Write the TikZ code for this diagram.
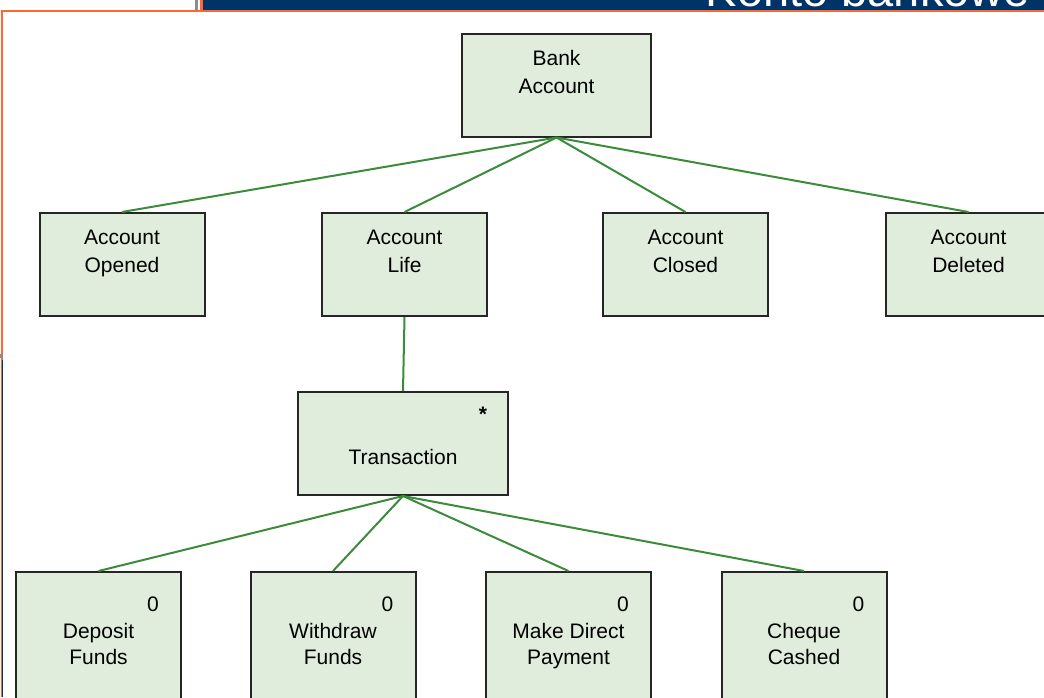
\documentclass[tikz,border=0pt]{standalone}
\usepackage{fontspec}
\setmainfont{Liberation Sans}
\usetikzlibrary{positioning}
\definecolor{boxgreen}{RGB}{225,237,220}
\definecolor{linkgreen}{RGB}{58,140,58}
\definecolor{bannerblue}{RGB}{0,51,102}
\definecolor{frameorange}{RGB}{255,102,51}
\tikzset{
  box/.style={draw=black!85, line width=2pt, fill=boxgreen, minimum width=165pt, minimum height=103pt, inner sep=0pt},
  boxtext/.style={anchor=north, yshift=-18pt, align=center, inner sep=0pt, font=\fontsize{21}{28}\selectfont},
  lowtext/.style={anchor=north, yshift=-52.5pt, align=center, inner sep=0pt, font=\fontsize{21}{26}\selectfont},
  multip/.style={anchor=center, xshift=-29pt, yshift=-33pt, inner sep=0pt, font=\fontsize{21}{26}\selectfont},
  link/.style={draw=linkgreen, line width=2pt}
}
\begin{document}
\begin{tikzpicture}[x=1pt,y=-1pt]
\useasboundingbox (0,0) rectangle (1044,697);
\clip (0,0) rectangle (1044,697);

% banner and frame
\fill[bannerblue] (202,0) rectangle (1044,10);
\begin{scope}
\clip (202,0) rectangle (1044,10);
\node[anchor=base east, text=white, inner sep=0pt, font=\fontsize{47}{50}\selectfont] (title) at (1030,6.5) {Konto bankowe};
\end{scope}
\fill[black!45] (195,0) rectangle (198,10);
\fill[frameorange] (200,0) rectangle (202.5,10);
\fill[frameorange] (0.5,9.5) rectangle (1044,12);
\fill[frameorange] (0.5,9.5) rectangle (3,697);
\fill[black!45] (0,354) rectangle (3,358);
\fill[bannerblue] (1.8,360) rectangle (3,697);

% tree
\node[box, minimum width=189pt, label={[boxtext]north:Bank\\Account}] (bank) at (556.5,85) {};

\node[box, label={[boxtext]north:Account\\Opened}] (opened) at (122,264.5) {};
\node[box, label={[boxtext]north:Account\\Life}] (life) at (404.5,264.5) {};
\node[box, label={[boxtext]north:Account\\Closed}] (closed) at (685.5,264.5) {};
\node[box, label={[boxtext]north:Account\\Deleted}] (deleted) at (968.5,264.5) {};

\node[box, minimum width=210pt, label={[boxtext, yshift=-40.5pt]north:Transaction},
  label={[multip, xshift=3pt, yshift=9.5pt]north east:\textbf{*}}] (trans) at (403,443.5) {};

\node[box, minimum height=140pt, label={[lowtext]north:Deposit\\Funds}, label={[multip]north east:0}] (deposit) at (98.5,642) {};
\node[box, minimum height=140pt, label={[lowtext]north:Withdraw\\Funds}, label={[multip]north east:0}] (withdraw) at (333,642) {};
\node[box, minimum height=140pt, label={[lowtext]north:Make Direct\\Payment}, label={[multip]north east:0}] (payment) at (568.5,642) {};
\node[box, minimum height=140pt, label={[lowtext]north:Cheque\\Cashed}, label={[multip]north east:0}] (cheque) at (804,642) {};

\foreach \n in {opened,life,closed,deleted}
  \draw[link] (bank.south) -- (\n.north);
\draw[link] (life.south) -- (trans.north);
\foreach \n in {deposit,withdraw,payment,cheque}
  \draw[link] (trans.south) -- (\n.north);
\end{tikzpicture}
\end{document}
